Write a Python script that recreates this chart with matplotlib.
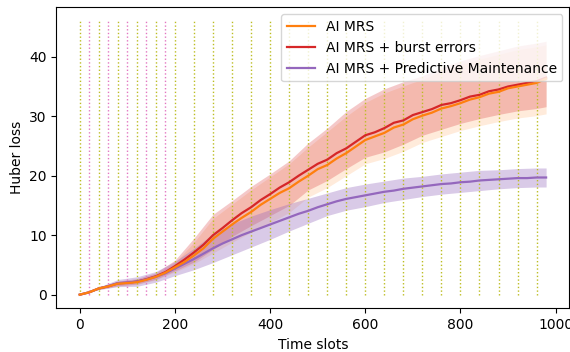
import numpy as np
import matplotlib.pyplot as plt

# mean curves, one value every 20 time slots (0..980)
slots = np.arange(0, 1000, 20)

mrs = [0, 0.4, 1.05, 1.4, 1.85, 1.95, 2.1, 2.5, 3.0, 3.7,
       4.6, 5.5, 6.6, 7.8, 9.4, 10.6, 11.8, 12.9, 13.9, 15.1,
       16.1, 17.1, 17.9, 19.0, 20.0, 21.1, 21.8, 22.9, 23.8, 24.9,
       26.0, 26.6, 27.2, 28.1, 28.6, 29.5, 30.1, 30.6, 31.3, 31.7,
       32.2, 32.8, 33.2, 33.8, 34.1, 34.7, 35.0, 35.3, 35.6, 36.3]

burst = [0, 0.4, 1.05, 1.4, 1.9, 2.0, 2.2, 2.6, 3.1, 3.8,
         4.8, 5.9, 7.1, 8.4, 10.0, 11.2, 12.5, 13.7, 14.7, 15.9,
         16.9, 18.0, 18.9, 20.0, 21.0, 22.0, 22.7, 23.8, 24.6, 25.7,
         26.8, 27.3, 28.0, 28.9, 29.3, 30.2, 30.7, 31.2, 31.9, 32.2,
         32.7, 33.3, 33.6, 34.2, 34.5, 35.0, 35.3, 35.6, 35.9, 36.5]

pm = [0, 0.4, 1.05, 1.45, 1.95, 2.05, 2.2, 2.55, 3.0, 3.6,
      4.4, 5.2, 6.0, 6.9, 7.8, 8.6, 9.3, 10.0, 10.6, 11.2,
      11.8, 12.4, 13.0, 13.6, 14.1, 14.7, 15.2, 15.7, 16.1, 16.4,
      16.7, 17.0, 17.3, 17.5, 17.8, 18.0, 18.2, 18.4, 18.6, 18.7,
      18.9, 19.0, 19.2, 19.3, 19.4, 19.5, 19.6, 19.6, 19.7, 19.7]

# spread bands, one value every 40 slots plus the last slot
band_slots = [0, 40, 80, 120, 160, 200, 240, 280, 320, 360, 400, 440, 480,
              520, 560, 600, 640, 680, 720, 760, 800, 840, 880, 920, 960, 980]

mrs_low = [0, 0.9, 1.4, 1.7, 2.5, 3.8, 5.2, 7.0, 8.8, 10.5, 12.1, 13.8, 16.4,
           18.0, 20.0, 22.0, 22.9, 24.1, 25.6, 26.6, 27.6, 28.4, 29.1, 29.7, 30.1, 30.4]
mrs_high = [0, 1.2, 2.2, 2.6, 3.5, 5.4, 8.8, 12.8, 15.2, 17.6, 19.8, 22.0, 24.8,
            27.4, 30.0, 32.3, 33.9, 35.1, 36.2, 37.6, 38.7, 39.6, 40.4, 41.2, 41.7, 42.0]

burst_low = [0, 0.9, 1.5, 1.8, 2.6, 4.0, 5.5, 7.6, 9.8, 11.6, 13.3, 15.0, 17.6,
             19.2, 21.2, 23.1, 24.0, 25.3, 26.8, 27.8, 28.8, 29.6, 30.3, 30.9, 31.3, 31.6]
burst_high = [0, 1.2, 2.3, 2.7, 3.7, 5.8, 9.5, 13.5, 15.8, 18.2, 20.3, 22.5, 25.5,
              28.0, 30.8, 33.0, 34.6, 35.8, 36.8, 38.2, 39.3, 40.2, 41.0, 41.8, 42.3, 42.6]

pm_std = [0, 0.2, 0.6, 0.8, 0.9, 1.2, 1.8, 2.4, 2.6, 2.6, 2.5, 2.3, 2.1,
          1.9, 1.9, 1.9, 1.8, 1.8, 1.7, 1.7, 1.7, 1.7, 1.6, 1.6, 1.6, 1.6]

# maintenance marks
marks_a = np.arange(0, 1000, 40)
marks_b = [20, 60, 100, 140, 180]

fig = plt.figure(figsize=(5.7, 3.52), dpi=100)
ax = fig.add_axes([0.099, 0.124, 0.9, 0.855])

ax.vlines(marks_a, 0, 46, colors='tab:olive', linestyles=':', linewidth=1)
ax.vlines(marks_b, 0, 46, colors='tab:pink', linestyles=':', linewidth=1)

idx = [s // 20 for s in band_slots]
pm_arr = np.array(pm)[idx]
std = np.array(pm_std)

ax.fill_between(band_slots, mrs_low, mrs_high, color='tab:orange', alpha=0.15, linewidth=0)
ax.fill_between(band_slots, burst_low, burst_high, color='tab:red', alpha=0.25, linewidth=0)
ax.fill_between(band_slots, pm_arr - std, pm_arr + std, color='tab:purple', alpha=0.35, linewidth=0)

ax.plot(slots, mrs, color='tab:orange', lw=1.6, label='AI MRS', zorder=4)
ax.plot(slots, burst, color='tab:red', lw=1.6, label='AI MRS + burst errors', zorder=3)
ax.plot(slots, pm, color='tab:purple', lw=1.6, label='AI MRS + Predictive Maintenance', zorder=3)

ax.set_xlabel('Time slots')
ax.set_ylabel('Huber loss')
ax.legend(loc='upper right')

plt.savefig('out.png', dpi=100)
